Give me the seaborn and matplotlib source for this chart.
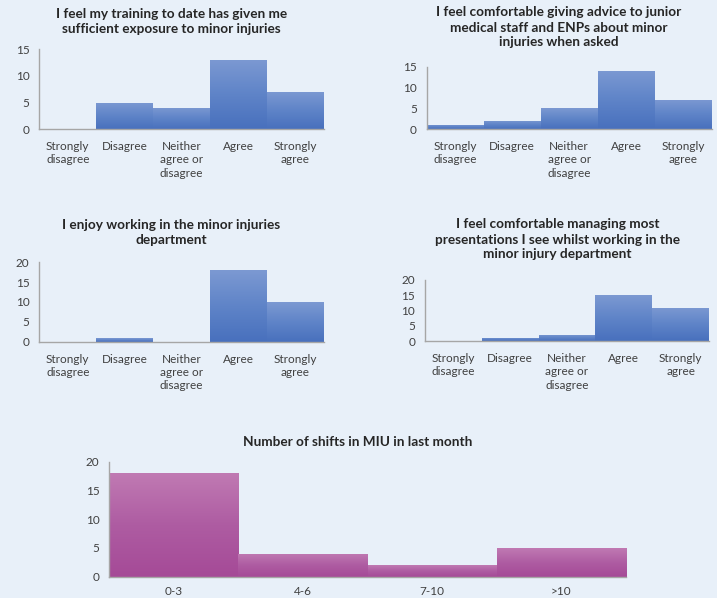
import numpy as np
import matplotlib
matplotlib.use("Agg")
import matplotlib.pyplot as plt
from matplotlib.colors import LinearSegmentedColormap
import seaborn as sns

# ---- data ----
categories = ["Strongly\ndisagree", "Disagree", "Neither\nagree or\ndisagree", "Agree", "Strongly\nagree"]
training_exposure = [0, 5, 4, 13, 7]
advice_comfort = [1, 2, 5, 14, 7]
enjoy_working = [0, 1, 0, 18, 10]
managing_comfort = [0, 1, 2, 15, 11]
shift_bins = ["0-3", "4-6", "7-10", ">10"]
shift_counts = [18, 4, 2, 5]

titles = [
    "I feel my training to date has given me\nsufficient exposure to minor injuries",
    "I feel comfortable giving advice to junior\nmedical staff and ENPs about minor\ninjuries when asked",
    "I enjoy working in the minor injuries\ndepartment",
    "I feel comfortable managing most\npresentations I see whilst working in the\nminor injury department",
    "Number of shifts in MIU in last month",
]

sns.set_theme(style="white")
plt.rcParams["font.family"] = ["Lato", "DejaVu Sans"]

BG = "#E8F0F9"
W, H = 717, 598
fig = plt.figure(figsize=(W / 100, H / 100), dpi=100, facecolor=BG)

blue_cmap = LinearSegmentedColormap.from_list("b", ["#7C99D2", "#5F84C8", "#4870BD"])
purple_cmap = LinearSegmentedColormap.from_list("p", ["#C07AB3", "#AE5CA2", "#A54A97"])


def px_axes(left, top, right, bottom):
    return fig.add_axes([left / W, 1 - bottom / H, (right - left) / W, (bottom - top) / H])


def draw(ax, cats, vals, ymax, cmap, base, label_pad):
    sns.barplot(x=cats, y=vals, ax=ax, width=1.0, color=base, saturation=1,
                edgecolor="none", linewidth=0)
    ax.set_facecolor(BG)
    grad = np.linspace(0, 1, 256).reshape(-1, 1)
    for p in list(ax.patches):
        h = p.get_height()
        if h <= 0:
            continue
        x0 = p.get_x()
        im = ax.imshow(grad, extent=[x0, x0 + p.get_width(), 0, h], aspect="auto",
                       cmap=cmap, zorder=p.get_zorder() + 0.1, interpolation="bilinear")
        im.set_clip_path(p)
    ax.set_xlim(-0.5, len(cats) - 0.5)
    ax.set_ylim(0, ymax)
    ax.set_yticks(np.arange(0, ymax + 1, 5))
    ax.set_aspect("auto")
    ax.set_xlabel("")
    ax.set_ylabel("")
    for s in ["top", "right"]:
        ax.spines[s].set_visible(False)
    for s in ["left", "bottom"]:
        ax.spines[s].set_color("#A6A6A6")
        ax.spines[s].set_linewidth(1.0)
    ax.tick_params(axis="y", length=4, width=1, color="#A6A6A6", direction="out",
                   labelsize=8.5, labelcolor="#404040", pad=3)
    ax.tick_params(axis="x", length=0, labelsize=8.5, labelcolor="#404040", pad=label_pad)
    for t in ax.get_xticklabels():
        t.set_linespacing(1.25)
        t.set_verticalalignment("top")


specs = [
    (categories, training_exposure, 15, (39.3, 49.3, 324, 129.3), (171.5, 8)),
    (categories, advice_comfort, 15, (426.7, 66.7, 711.7, 129.3), (559, 6.5)),
    (categories, enjoy_working, 20, (39.3, 262.3, 324, 341.7), (171, 219)),
    (categories, managing_comfort, 20, (425, 280, 709, 341.3), (557.5, 218.5)),
]
for i, (cats, vals, ymax, box, tpos) in enumerate(specs):
    ax = px_axes(*box)
    draw(ax, cats, vals, ymax, blue_cmap, "#5F84C8", 8.5)
    fig.text(tpos[0] / W, 1 - tpos[1] / H, titles[i], ha="center", va="top",
             fontsize=9.8, fontweight="bold", color="#262626", linespacing=1.3)

ax5 = px_axes(109.3, 461.7, 625.7, 576.7)
draw(ax5, shift_bins, shift_counts, 20, purple_cmap, "#AE5CA2", 7)
fig.text(358 / W, 1 - 436 / H, titles[4], ha="center", va="top",
         fontsize=9.8, fontweight="bold", color="#262626")

fig.savefig("out.png", dpi=100, facecolor=BG)
